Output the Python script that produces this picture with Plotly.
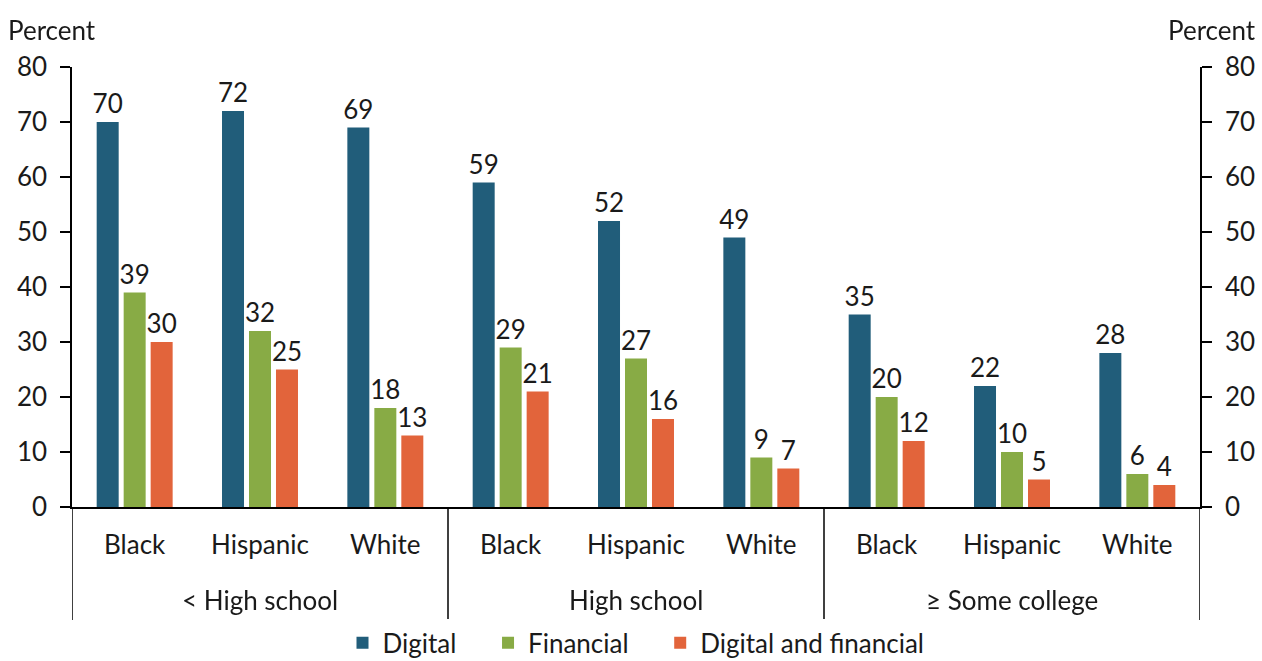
import plotly.graph_objects as go

groups = ["< High school", "High school", "≥ Some college"]
race = ["Black", "Hispanic", "White"] * 3
series_names = ["Digital", "Financial", "Digital and financial"]
digital = [70, 72, 69, 59, 52, 49, 35, 22, 28]
financial = [39, 32, 18, 29, 27, 9, 20, 10, 6]
both = [30, 25, 13, 21, 16, 7, 12, 5, 4]
y_ticks = [0, 10, 20, 30, 40, 50, 60, 70, 80]

FONT = "Lato"
FS = 26
TXT = "#1a1a1a"
colors = ["#215d7a", "#88ab45", "#e2643b"]

pos = list(range(len(race)))
fig = go.Figure()
for name, vals, col, pad in zip(series_names, [digital, financial, both], colors, [True, True, False]):
    fig.add_trace(go.Bar(
        x=pos, y=vals, name=name + ("\u00a0" * 4 if pad else ""), marker_color=col,
        marker_line_width=0,
        text=vals, textposition="outside", cliponaxis=False, constraintext="none",
        textfont=dict(family=FONT, size=FS, color=TXT),
    ))
fig.add_trace(go.Scatter(x=pos, y=digital, yaxis="y2", mode="markers", opacity=0,
                         showlegend=False, hoverinfo="skip"))

axis_common = dict(range=[0, 80], tickvals=y_ticks, ticks="outside", ticklen=10,
                   tickwidth=1.5, tickcolor="black", showline=True, linecolor="black",
                   linewidth=1.5, showgrid=False, zeroline=False,
                   tickfont=dict(family=FONT, size=FS, color=TXT),
                   ticklabelstandoff=8)

n_per = 3
shapes = []
for k in range(len(groups) + 1):
    xv = k * n_per - 0.5
    shapes.append(dict(type="line", xref="x", yref="paper", x0=xv, x1=xv, y0=0, y1=-0.257,
                       line=dict(color="black", width=1.5)))
annotations = [
    dict(text=g, xref="x", yref="paper", x=i * n_per + 1, y=-0.211, showarrow=False,
         xanchor="center", yanchor="middle", font=dict(family=FONT, size=FS, color=TXT))
    for i, g in enumerate(groups)
]
annotations += [
    dict(text="Percent", xref="paper", yref="paper", x=-0.0585, y=1.085, xanchor="left",
         yanchor="middle", showarrow=False, font=dict(family=FONT, size=FS, color=TXT)),
    dict(text="Percent", xref="paper", yref="paper", x=1.0515, y=1.085, xanchor="right",
         yanchor="middle", showarrow=False, font=dict(family=FONT, size=FS, color=TXT)),
]

fig.update_layout(
    width=1262, height=661,
    margin=dict(l=72, r=62, t=67, b=154, autoexpand=False),
    plot_bgcolor="white", paper_bgcolor="white",
    barmode="group", bargap=0.354, bargroupgap=0.185,
    font=dict(family=FONT, size=FS, color=TXT),
    xaxis=dict(range=[-0.5, len(race) - 0.5], tickvals=pos, ticktext=race,
               showline=True, linecolor="black", linewidth=1.5, ticks="",
               showgrid=False, zeroline=False, ticklabelstandoff=14,
               tickfont=dict(family=FONT, size=FS, color=TXT)),
    yaxis=dict(**axis_common),
    yaxis2=dict(**axis_common, overlaying="y", side="right"),
    legend=dict(orientation="h", x=0.5, xanchor="center", y=-0.309, yanchor="middle",
                font=dict(family=FONT, size=FS, color=TXT), traceorder="normal"),
    shapes=shapes,
    annotations=annotations,
)
fig.write_html("out.html")
